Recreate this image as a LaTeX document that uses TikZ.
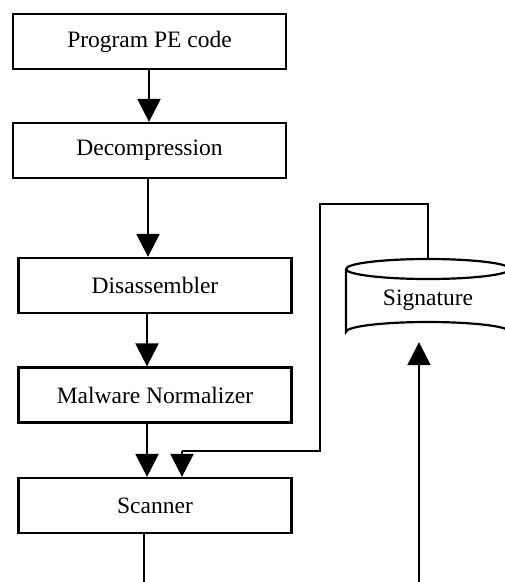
\documentclass[tikz,border=0pt]{standalone}
\usepackage{fontspec}
\setmainfont{Liberation Serif}
\usetikzlibrary{arrows.meta}
\begin{document}
\begin{tikzpicture}[x=1pt,y=-1pt,
  box/.style={draw, line width=2.2pt, minimum width=273pt, minimum height=55pt, inner sep=0pt,
    font=\fontsize{23.5}{28}\selectfont},
  conn/.style={line width=2.2pt},
  arr/.style={conn, -{Triangle[width=23pt,length=23pt]}}]
\useasboundingbox (0,0) rectangle (505,582);
\node[box] (pe) at (149.5,41.5) {Program PE code};
\node[box] (dec) at (149.5,150.5) {Decompression};
\node[box] (dis) at (155,285.5) {Disassembler};
\node[box] (norm) at (155,395) {Malware Normalizer};
\node[box] (scan) at (155,505.5) {Scanner};
% signature cylinder
\node[minimum width=164pt, minimum height=83pt, inner sep=0pt,
  font=\fontsize{23.5}{28}\selectfont] (sig) at (428,300.5) {Signature};
\draw[line width=2.2pt] (346,269) arc[start angle=180,end angle=-180,x radius=82,y radius=10];
\draw[line width=2.2pt] (346,269) -- (346,332) arc[start angle=180,end angle=360,x radius=82,y radius=10] -- (510,269);
% connector coordinates
\coordinate (a1) at (149,0);
\coordinate (a2) at (148,0);
\coordinate (a3) at (147,0);
\coordinate (fb) at (182,0);
\coordinate (k1) at (182,451);
\coordinate (k2) at (320,451);
\coordinate (k3) at (320,204);
\coordinate (k4) at (428,204);
\coordinate (bl) at (144,590);
\coordinate (br) at (419,590);
\draw[arr] (pe.south -| a1) -- (dec.north -| a1);
\draw[arr] (dec.south -| a2) -- (dis.north -| a2);
\draw[arr] (dis.south -| a3) -- (norm.north -| a3);
\draw[arr] (norm.south -| a3) -- (scan.north -| a3);
\draw[conn] (sig.north -| k4) -- (k4) -- (k3) -- (k2) -- (k1);
\draw[arr] (k1) -- (scan.north -| fb);
\draw[conn] (scan.south -| bl) -- (bl);
\draw[arr] (br) -- (sig.south -| br);
\end{tikzpicture}
\end{document}
